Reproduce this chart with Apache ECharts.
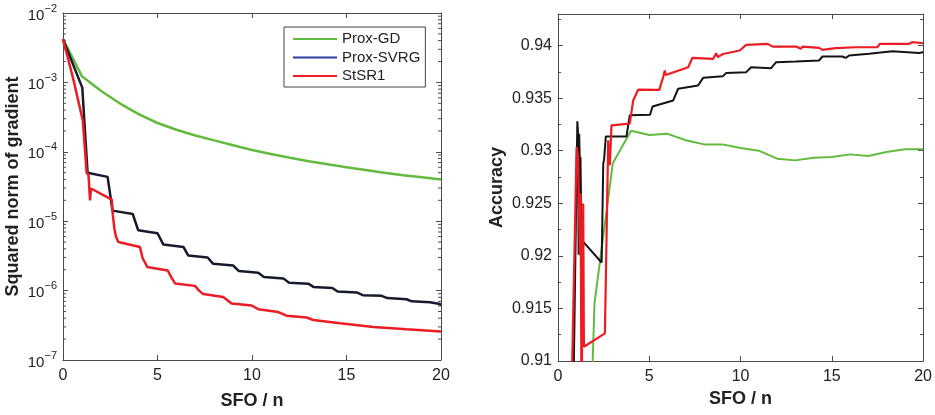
<!DOCTYPE html>
<html>
<head>
<meta charset="utf-8">
<script src="https://cdn.jsdelivr.net/npm/echarts@6/dist/echarts.min.js"></script>
<style>
  html, body { margin: 0; padding: 0; background: #fff; }
  #chart { width: 935px; height: 415px; }
</style>
</head>
<body>
<div id="chart"></div>
<script>
// ---- Squared norm of gradient vs SFO / n ----
const gdSfo = [0, 1, 2, 3, 4, 5, 6, 7, 8, 9, 10, 11, 12, 13, 14, 15, 16, 17, 18, 19, 20];
const gdGradNorm = [4.2e-3, 1.23e-3, 7.6e-4, 5.0e-4, 3.5e-4, 2.6e-4, 2.08e-4, 1.72e-4, 1.46e-4, 1.24e-4, 1.06e-4,
  9.3e-5, 8.2e-5, 7.3e-5, 6.6e-5, 6.0e-5, 5.45e-5, 5.0e-5, 4.6e-5, 4.3e-5, 4.0e-5];

const svrgSfo = [0, 1.02, 1.3, 2.36, 2.62, 3.69, 3.98, 5.0, 5.31, 6.37, 6.63, 7.65, 7.95, 9.0, 9.31, 10.33, 10.63,
  11.66, 11.96, 12.98, 13.25, 14.25, 14.53, 15.54, 15.86, 16.86, 17.16, 18.18, 18.45, 19.42, 19.95, 20];
const svrgGradNorm = [4.2e-3, 8.4e-4, 5.0e-5, 4.35e-5, 1.42e-5, 1.27e-5, 7.4e-6, 6.7e-6, 4.6e-6, 4.25e-6, 3.2e-6,
  3.0e-6, 2.43e-6, 2.3e-6, 1.91e-6, 1.81e-6, 1.57e-6, 1.5e-6, 1.3e-6, 1.26e-6, 1.13e-6, 1.09e-6, 9.7e-7, 9.4e-7,
  8.6e-7, 8.4e-7, 7.8e-7, 7.5e-7, 7.0e-7, 6.8e-7, 6.4e-7, 6.2e-7];

const sr1Sfo = [0, 0.55, 1.05, 1.25, 1.35, 1.43, 1.48, 2.58, 2.64, 2.72, 2.8, 2.93, 4.07, 4.21, 4.46, 5.54, 5.75,
  5.93, 6.98, 7.2, 7.42, 8.48, 8.92, 9.98, 10.33, 11.39, 11.83, 12.89, 13.24, 14.66, 16.42, 18.18, 20];
const sr1GradNorm = [4.2e-3, 1.1e-3, 2.8e-4, 5.0e-5, 4.6e-5, 2.0e-5, 2.96e-5, 2.05e-5, 1.2e-5, 7.8e-6, 6.0e-6,
  5.0e-6, 4.26e-6, 2.95e-6, 2.19e-6, 1.95e-6, 1.53e-6, 1.27e-6, 1.17e-6, 1.0e-6, 8.9e-7, 8.1e-7, 6.5e-7, 6.1e-7,
  5.4e-7, 4.9e-7, 4.35e-7, 4.1e-7, 3.77e-7, 3.39e-7, 3.0e-7, 2.77e-7, 2.57e-7];

// ---- Accuracy vs SFO / n ----
const gdAccSfo = [1, 2, 3, 4, 5, 6, 7, 8, 9, 10, 11, 12, 13, 14, 15, 16, 17, 18, 19, 20];
const gdAccuracy = [0.86, 0.9155, 0.9288, 0.9319, 0.9315, 0.9316, 0.9310, 0.9306, 0.9306, 0.93025, 0.9300,
  0.92924, 0.92908, 0.92934, 0.9294, 0.92965, 0.92949, 0.92987, 0.93013, 0.93013];

const svrgAccSfo = [0, 1.06, 1.1, 1.13, 1.16, 1.19, 1.23, 1.26, 1.3, 1.35, 2.39, 2.48, 2.52, 2.62, 3.75, 3.93,
  5.04, 5.18, 6.31, 6.58, 7.67, 7.95, 9.04, 9.22, 10.31, 10.58, 11.67, 11.95, 13.04, 14.3, 14.49, 15.58, 15.76,
  15.95, 17.04, 17.14, 18.32, 19.78, 20];
const svrgAccuracy = [0.8056, 0.9328, 0.9316, 0.9201, 0.9316, 0.9291, 0.9294, 0.9255, 0.9215, 0.9215, 0.91937,
  0.9288, 0.9291, 0.93136, 0.93136, 0.93336, 0.93342, 0.9342, 0.93478, 0.93589, 0.9362, 0.93693, 0.93709, 0.9374,
  0.93747, 0.93794, 0.93785, 0.93842, 0.93848, 0.93858, 0.93896, 0.93896, 0.93883, 0.93905, 0.93921, 0.93905,
  0.93946, 0.9393, 0.93937];

const sr1AccSfo = [0, 1.02, 1.1, 1.2, 1.24, 1.29, 1.38, 1.42, 2.57, 2.75, 2.84, 2.93, 3.93, 4.12, 4.39, 5.55,
  5.76, 5.85, 5.9, 7.13, 7.36, 8.49, 8.67, 8.75, 9.04, 9.95, 10.31, 11.49, 11.76, 13.04, 13.3, 13.4, 14.3, 14.49,
  15.2, 16.3, 17.5, 17.63, 19.23, 19.4, 20];
const sr1Accuracy = [0.844, 0.93035, 0.9294, 0.92006, 0.92592, 0.905, 0.92497, 0.91136, 0.91263, 0.93098,
  0.92861, 0.93241, 0.93257, 0.93478, 0.9358, 0.93579, 0.937, 0.93763, 0.9372, 0.93794, 0.93883, 0.93873,
  0.93927, 0.9389, 0.9392, 0.93953, 0.94006, 0.94016, 0.9399, 0.9399, 0.9397, 0.9399, 0.93978, 0.93959, 0.93975,
  0.93984, 0.93984, 0.94016, 0.94016, 0.94032, 0.94022];

// Minor tick values for the logarithmic axis (2..9 within each decade)
const logMinorTicks = [];
for (let d = -7; d <= -3; d++) {
  for (let k = 2; k <= 9; k++) logMinorTicks.push(k * Math.pow(10, d));
}

const FONT = "'Liberation Sans', Arial, Helvetica, sans-serif";
const AXIS_COLOR = '#4a4a4a';
const TEXT_COLOR = '#222';
const GREEN = '#62bb3e';
const RED = '#ec1c24';
const SVRG_LEGEND = '#2b3f9c';

const zip = (xs, ys) => xs.map((x, i) => [x, ys[i]]);

const axisLine = { show: true, onZero: false, lineStyle: { color: AXIS_COLOR, width: 1 } };
const majorTick = { show: true, inside: true, length: 5, lineStyle: { color: AXIS_COLOR } };
const nameStyle = { fontFamily: FONT, fontSize: 18, fontWeight: 'bold', color: TEXT_COLOR };
const tickLabel = { fontFamily: FONT, fontSize: 16, color: TEXT_COLOR };

function xAxes(grid, nameGap) {
  const base = { gridIndex: grid, type: 'value', min: 0, max: 20, interval: 5, splitLine: { show: false },
    axisLine, axisTick: majorTick };
  return [
    Object.assign({}, base, { position: 'bottom', name: 'SFO / n', nameLocation: 'middle', nameGap,
      nameTextStyle: nameStyle, axisLabel: Object.assign({ margin: 8 }, tickLabel) }),
    Object.assign({}, base, { position: 'top', axisLabel: { show: false } })
  ];
}

function logLabel(value) {
  const exp = Math.round(Math.log10(value));
  return '{b|10}{e|' + (exp < 0 ? '\u2212' : '') + Math.abs(exp) + '}';
}

const logBase = { gridIndex: 0, type: 'log', logBase: 10, min: 1e-7, max: 1e-2, splitNumber: 5,
  splitLine: { show: false }, axisLine, axisTick: majorTick };
const accBase = { gridIndex: 1, type: 'value', min: 0.91, max: 0.943, interval: 0.005,
  splitLine: { show: false }, axisLine, axisTick: majorTick,
  minorTick: { show: true, splitNumber: 2, length: 3, lineStyle: { color: AXIS_COLOR } },
  minorSplitLine: { show: false } };

const option = {
  animation: false,
  backgroundColor: '#fff',
  grid: [
    { left: 63, top: 13, width: 378, height: 350 },
    { left: 558, top: 14, width: 366, height: 347 }
  ],
  xAxis: [...xAxes(0, 32), ...xAxes(1, 29)],
  yAxis: [
    Object.assign({}, logBase, { position: 'left', name: 'Squared norm of gradient', nameLocation: 'middle',
      nameGap: 41, nameTextStyle: nameStyle,
      axisLabel: { margin: 6, formatter: logLabel,
        rich: {
          b: { fontFamily: FONT, fontSize: 15, lineHeight: 20, verticalAlign: 'bottom', color: TEXT_COLOR },
          e: { fontFamily: FONT, fontSize: 11, lineHeight: 10, verticalAlign: 'top', color: TEXT_COLOR }
        } } }),
    Object.assign({}, logBase, { position: 'right', axisLabel: { show: false } }),
    Object.assign({}, accBase, { position: 'left', name: 'Accuracy', nameLocation: 'middle', nameGap: 52,
      nameTextStyle: nameStyle,
      axisLabel: Object.assign({ margin: 6, showMaxLabel: false }, tickLabel) }),
    Object.assign({}, accBase, { position: 'right', axisLabel: { show: false } })
  ],
  legend: {
    left: 284, top: 27, orient: 'vertical',
    icon: 'rect', itemWidth: 44, itemHeight: 2, itemGap: 3.5, itemTextGap: 5,
    padding: [4.5, 5, 3.5, 9],
    borderColor: '#444', borderWidth: 1, borderRadius: 0, backgroundColor: '#fff',
    textStyle: { fontFamily: FONT, fontSize: 15, color: TEXT_COLOR },
    data: [
      { name: 'Prox-GD' },
      { name: 'Prox-SVRG', itemStyle: { color: SVRG_LEGEND } },
      { name: 'StSR1' }
    ]
  },
  series: [
    {
      type: 'custom', name: 'log-minor-ticks', xAxisIndex: 0, yAxisIndex: 0, silent: true, z: 1,
      data: logMinorTicks.map(v => [0, v]),
      renderItem: (params, api) => {
        const v = api.value(1);
        const l = api.coord([0, v]);
        const r = api.coord([20, v]);
        const st = { stroke: AXIS_COLOR, lineWidth: 1 };
        return { type: 'group', children: [
          { type: 'line', shape: { x1: l[0], y1: l[1], x2: l[0] + 3, y2: l[1] }, style: st },
          { type: 'line', shape: { x1: r[0], y1: r[1], x2: r[0] - 3, y2: r[1] }, style: st }
        ] };
      }
    },
    { type: 'line', name: 'Prox-GD', xAxisIndex: 0, yAxisIndex: 0, data: zip(gdSfo, gdGradNorm),
      symbol: 'none', lineStyle: { color: GREEN, width: 2.5 }, itemStyle: { color: GREEN }, z: 3 },
    { type: 'line', name: 'Prox-SVRG', xAxisIndex: 0, yAxisIndex: 0, data: zip(svrgSfo, svrgGradNorm),
      symbol: 'none', lineStyle: { color: '#161a2c', width: 2.5 }, itemStyle: { color: '#161a2c' }, z: 4 },
    { type: 'line', name: 'StSR1', xAxisIndex: 0, yAxisIndex: 0, data: zip(sr1Sfo, sr1GradNorm),
      symbol: 'none', lineStyle: { color: RED, width: 2.5 }, itemStyle: { color: RED }, z: 5 },

    { type: 'line', name: 'Prox-GD', xAxisIndex: 2, yAxisIndex: 2, data: zip(gdAccSfo, gdAccuracy),
      symbol: 'none', lineStyle: { color: GREEN, width: 2 }, itemStyle: { color: GREEN }, z: 3 },
    { type: 'line', name: 'Prox-SVRG', xAxisIndex: 2, yAxisIndex: 2, data: zip(svrgAccSfo, svrgAccuracy),
      symbol: 'none', lineStyle: { color: '#141414', width: 2 }, itemStyle: { color: '#141414' }, z: 4 },
    { type: 'line', name: 'StSR1', xAxisIndex: 2, yAxisIndex: 2, data: zip(sr1AccSfo, sr1Accuracy),
      symbol: 'none', lineStyle: { color: RED, width: 2.2 }, itemStyle: { color: RED }, z: 5 }
  ]
};

const chart = echarts.init(document.getElementById('chart'), null, { renderer: 'canvas' });
chart.setOption(option);
</script>
</body>
</html>
